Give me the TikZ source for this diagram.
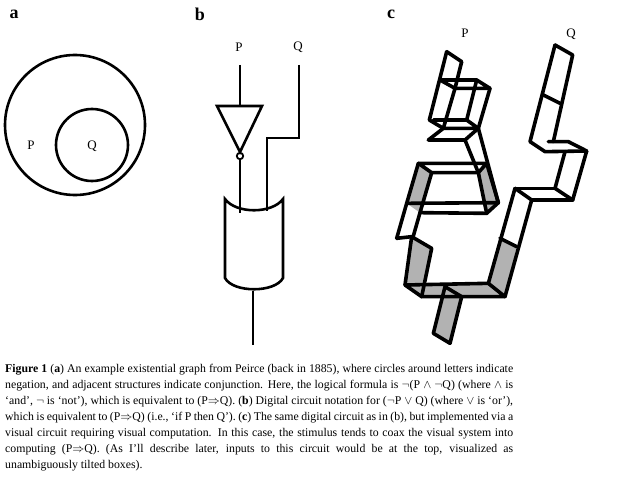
\documentclass[tikz,border=0pt]{standalone}
\usepackage{fontspec}
\setmainfont{Liberation Serif}
\begin{document}
\begin{tikzpicture}[x=1pt,y=-1pt,
  wire/.style={line width=2.6pt},
  blk/.style={line width=3.6pt,line join=round,line cap=round},
  shade/.style={fill={rgb,255:red,178;green,178;blue,178}},
  plbl/.style={font=\fontsize{18}{18}\selectfont\bfseries},
  lbl/.style={font=\fontsize{13}{13}\selectfont}]
\useasboundingbox (0,0) rectangle (617,481);
% labels
\node[plbl] (la) at (14,14) {a};
\node[plbl] (lb) at (200,14) {b};
\node[plbl] (lc) at (391,14) {c};
% panel a
\draw[wire] (75,125) circle (70);
\draw[wire] (92,145) circle (36);
\node[lbl] (aP) at (31,145) {P};
\node[lbl] (aQ) at (92,146) {Q};
% panel b
\node[lbl] (bP) at (239,47) {P};
\node[lbl] (bQ) at (298,47) {Q};
\draw[wire] (240,65) -- (240,106);
\draw[wire,line join=miter] (217,106) -- (262,106) -- (240,152) -- cycle;
\draw[line width=1.8pt] (240,156) circle (3.2);
\draw[wire] (240,159.5) -- (240,213);
\draw[wire] (299,65) -- (299,138) -- (267,138) -- (267,211);
\draw[wire] (225,199) .. controls (236,214) and (272,214) .. (283,199) -- (283,278)
  .. controls (275,293) and (233,293) .. (225,278) -- cycle;
\draw[wire] (253,291) -- (253,345);
% panel c
\node[lbl] (cP) at (465,33) {P};
\node[lbl] (cQ) at (571,34) {Q};
\begin{scope}[shift={(380,20)},scale=1/3]
\fill[shade] (115,430)--(155,458)--(120,578)--(80,550)--cycle;
\fill[shade] (320,430)--(355,548)--(320,580)--(295,458)--cycle;
\fill[shade] (95,650)--(155,685)--(125,830)--(75,795)--cycle;
\fill[shade] (75,795)--(325,790)--(375,830)--(125,830)--cycle;
\fill[shade] (360,655)--(410,680)--(375,830)--(325,790)--cycle;
\fill[shade] (195,800)--(245,830)--(210,970)--(160,940)--cycle;
\draw[blk] (195,800)--(245,830)--(210,970)--(160,940)--cycle;
% Q branch
\draw[blk] (525,75)--(578,105)--(520,365);
\draw[blk] (525,75)--(450,365)--(495,395)--(620,393);
\draw[blk] (505,365)--(565,365)--(620,393);
\draw[blk] (490,225)--(540,250);
\draw[blk] (555,395)--(525,505); \draw[blk] (620,393)--(578,540);
\draw[blk] (525,505)--(578,540);
\draw[blk] (405,505)--(525,505); \draw[blk] (455,540)--(578,540);
\draw[blk] (405,505)--(455,540);
\draw[blk] (405,505)--(325,790); \draw[blk] (455,540)--(375,830);
\draw[blk] (360,655)--(410,680);
% bottom
\draw[blk] (75,795)--(325,790)--(375,830)--(125,830)--cycle;
% lower left
\draw[blk] (95,650)--(155,685)--(125,830);
\draw[blk] (95,650)--(75,795);
\draw[blk] (50,655)--(95,650);
\draw[blk] (50,655)--(80,550);
\draw[blk] (120,578)--(100,648);
% trapezoid
\draw[blk] (115,430)--(320,430)--(295,458)--(155,458)--cycle;
\draw[blk] (115,430)--(80,550)--(355,548)--(320,430);
\draw[blk] (155,458)--(120,578)--(320,580)--(355,548);
\draw[blk] (295,458)--(320,580);
% P branch
\draw[blk] (200,95)--(245,125);
\draw[blk] (200,95)--(148,300)--(190,325);
\draw[blk] (245,125)--(225,205);
\draw[blk] (180,180)--(290,180)--(330,205)--(225,205)--cycle;
\draw[blk] (225,205)--(190,325);
\draw[blk] (290,180)--(260,300);
\draw[blk] (330,205)--(295,325);
\draw[blk] (160,300)--(260,300)--(295,325)--(190,325);
\draw[blk] (190,325)--(145,360)--(255,360)--(295,325);
\draw[blk] (255,360)--(295,458);
\draw[blk] (295,325)--(355,548);
\end{scope}
% caption
\node[anchor=north west,inner sep=0pt,text width=508pt,align=justify,
  font=\fontsize{11.8}{16}\selectfont] (cap) at (5,364)
{\hyphenpenalty=10000\relax
\textbf{Figure 1} (\textbf{a}) An example existential graph from Peirce (back in 1885), where circles around letters indicate\linebreak
negation, and adjacent structures indicate conjunction. Here, the logical formula is $\neg$(P $\wedge$ $\neg$Q) (where $\wedge$ is\linebreak
`and', $\neg$ is `not'), which is equivalent to (P$\Rightarrow$Q). (\textbf{b}) Digital circuit notation for ($\neg$P $\vee$ Q) (where $\vee$ is `or'),\linebreak
which is equivalent to (P$\Rightarrow$Q) (i.e., `if P then Q'). (\textbf{c}) The same digital circuit as in (b), but implemented via a\linebreak
visual circuit requiring visual computation. In this case, the stimulus tends to coax the visual system into\linebreak
computing (P$\Rightarrow$Q). (As I'll describe later, inputs to this circuit would be at the top, visualized as\linebreak
unambiguously tilted boxes).};
\end{tikzpicture}
\end{document}
